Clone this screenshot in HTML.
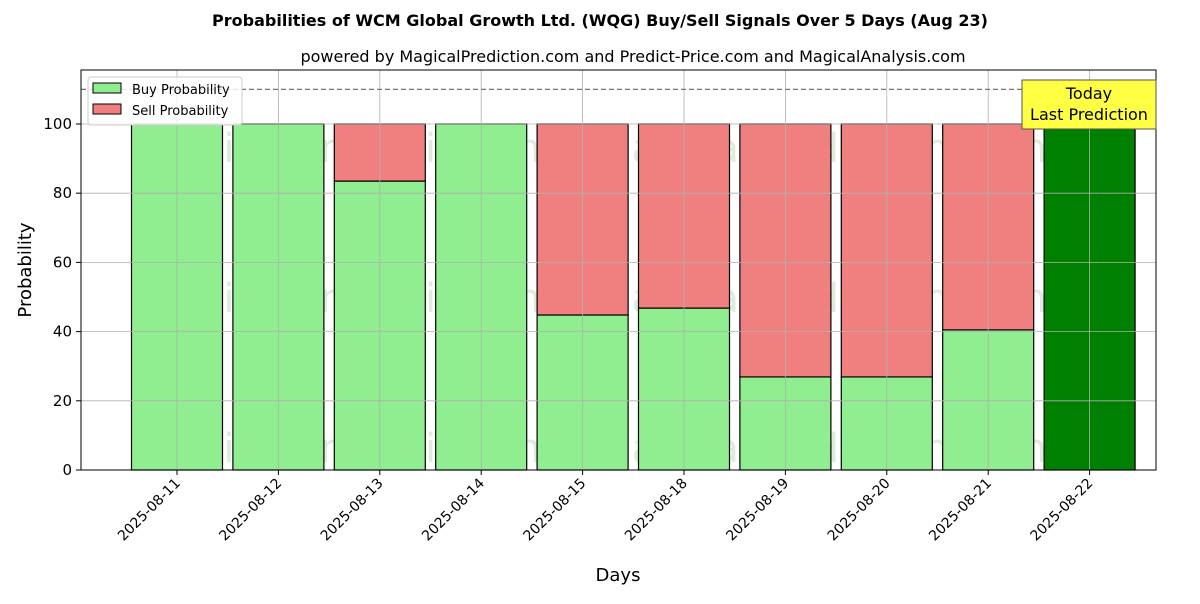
<!DOCTYPE html>
<html><head><meta charset="utf-8"><style>
body{margin:0;background:#fff;font-family:"DejaVu Sans","Liberation Sans",sans-serif;}
svg text{font-family:"DejaVu Sans","Liberation Sans",sans-serif;}
</style></head><body>
<svg id="chart" width="1200" height="600" xmlns="http://www.w3.org/2000/svg">
<text x="600" y="26" text-anchor="middle" font-size="16" font-weight="bold">Probabilities of WCM Global Growth Ltd. (WQG) Buy/Sell Signals Over 5 Days (Aug 23)</text>
<text x="633" y="62" text-anchor="middle" font-size="16">powered by MagicalPrediction.com and Predict-Price.com and MagicalAnalysis.com</text>
<g id="wm" font-size="40" fill="rgba(120,180,120,0.25)">
<text x="347" y="162" text-anchor="middle">MagicalAnalysis.com</text>
<text x="822" y="162" text-anchor="middle">MagicalPrediction.com</text>
<text x="347" y="312" text-anchor="middle">MagicalAnalysis.com</text>
<text x="822" y="312" text-anchor="middle">MagicalPrediction.com</text>
<text x="347" y="462" text-anchor="middle">MagicalAnalysis.com</text>
<text x="822" y="462" text-anchor="middle">MagicalPrediction.com</text>
</g>
<g id="bars"></g>
<g id="grid"></g>
<g id="axes"></g>
<text x="0" y="0" transform="translate(31,270) rotate(-90)" text-anchor="middle" font-size="18">Probability</text>
<text x="618" y="581" text-anchor="middle" font-size="18">Days</text>
<g>
<rect x="88" y="77" width="154" height="48" rx="3" fill="#fff" fill-opacity="0.8" stroke="#ccc"/>
<rect x="93" y="83" width="28" height="10" fill="#90ee90" stroke="#000"/>
<text x="132" y="94" font-size="13">Buy Probability</text>
<rect x="93" y="104" width="28" height="10" fill="#f08080" stroke="#000"/>
<text x="132" y="115" font-size="13">Sell Probability</text>
</g>
<g>
<rect x="1022" y="80" width="134" height="49" fill="#ffff44" stroke="#555"/>
<text x="1089" y="99" text-anchor="middle" font-size="16">Today</text>
<text x="1089" y="120" text-anchor="middle" font-size="16">Last Prediction</text>
</g>
</svg>
<script>
const categories=["2025-08-11","2025-08-12","2025-08-13","2025-08-14","2025-08-15","2025-08-18","2025-08-19","2025-08-20","2025-08-21","2025-08-22"];
const buyValues=[100,100,83.5,100,44.8,46.8,26.9,26.9,40.5,100];
const sellValues=[0,0,16.5,0,55.2,53.2,73.1,73.1,59.5,0];
const yTicks=[0,20,40,60,80,100];
const NS="http://www.w3.org/2000/svg";
const L=81,R=1156,T=70,B=470;
const yMin=0,yMax=115.6;
const y=v=>B-(v-yMin)/(yMax-yMin)*(B-T);
const step=101.4,x0=177;
const x=i=>x0+i*step;
const bw=91;
function mk(tag,attrs,parent){const e=document.createElementNS(NS,tag);for(const k in attrs)e.setAttribute(k,attrs[k]);parent.appendChild(e);return e;}
const bars=document.getElementById('bars'),grid=document.getElementById('grid'),axes=document.getElementById('axes');
categories.forEach((c,i)=>{
  const last=i===categories.length-1;
  const b=mk('rect',{x:x(i)-bw/2,y:y(buyValues[i]),width:bw,height:y(0)-y(buyValues[i]),fill:last?'#008000':'#90ee90',stroke:'#000','stroke-width':1.2},bars);
  
  
  if(sellValues[i]>0){
    const s=mk('rect',{x:x(i)-bw/2,y:y(buyValues[i]+sellValues[i]),width:bw,height:y(buyValues[i])-y(buyValues[i]+sellValues[i]),fill:'#f08080',stroke:'#000','stroke-width':1.2},bars);
    
    
  }
  const g=mk('line',{x1:x(i),x2:x(i),y1:T,y2:B,stroke:'#b0b0b0','stroke-width':0.8},grid);
  
  
  mk('line',{x1:x(i),x2:x(i),y1:B,y2:B+5,stroke:'#000'},axes);
  const t=mk('text',{transform:`translate(${x(i)+4},${B+14}) rotate(-45)`,'text-anchor':'end','font-size':14},axes);
  t.textContent=c;
  
  
});
yTicks.forEach(v=>{
  const g=mk('line',{x1:L,x2:R,y1:y(v),y2:y(v),stroke:'#b0b0b0','stroke-width':0.8},grid);
  
  
  mk('line',{x1:L-5,x2:L,y1:y(v),y2:y(v),stroke:'#000'},axes);
  const t=mk('text',{x:L-9,y:y(v)+5,'text-anchor':'end','font-size':15},axes);
  t.textContent=v;
  
  
});
const d=mk('line',{x1:L,x2:R,y1:y(110),y2:y(110),stroke:'#777','stroke-dasharray':'5,3','stroke-width':1.2},grid);


const f=mk('rect',{x:L,y:T,width:R-L,height:B-T,fill:'none',stroke:'#000','stroke-width':1},axes);


</script>
</body></html>
